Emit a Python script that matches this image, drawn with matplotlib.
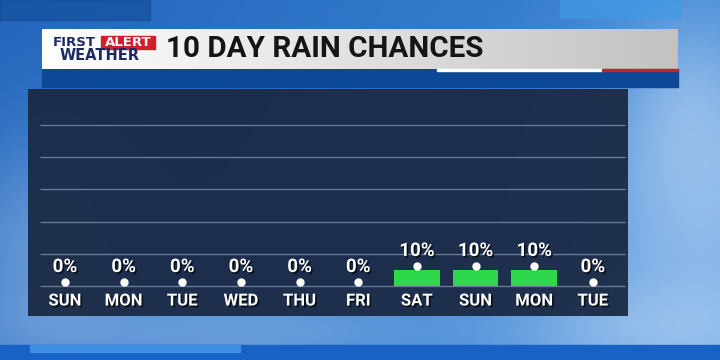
import numpy as np
import matplotlib.pyplot as plt
from matplotlib.patches import Rectangle
import matplotlib.patheffects as pe

days = ["SUN", "MON", "TUE", "WED", "THU", "FRI", "SAT", "SUN", "MON", "TUE"]
rain_pct = [0, 0, 0, 0, 0, 0, 10, 10, 10, 0]
grid_levels = [0, 20, 40, 60, 80, 100]
title = "10 DAY RAIN CHANCES"

fig = plt.figure(figsize=(7.2, 3.6), dpi=100)

# background (pixel coords)
bg = fig.add_axes([0, 0, 1, 1])
bg.set_xlim(0, 720)
bg.set_ylim(360, 0)
bg.axis("off")

H, W = 360, 720
yy, xx = np.mgrid[0:H, 0:W]
dark = np.array([0.08, 0.33, 0.68])
light = np.array([0.30, 0.60, 0.90])
t = np.clip(0.25 + 0.45 * xx / W + 0.15 * yy / H, 0, 1)
img = dark[None, None, :] * (1 - t[..., None]) + light[None, None, :] * t[..., None]
# soft cloud glow
for cx, cy, sx, sy, a in [(700, 200, 90, 120, 0.55), (40, 250, 60, 80, 0.35),
                          (660, 330, 120, 40, 0.45), (220, 330, 160, 30, 0.35),
                          (690, 110, 40, 60, 0.3)]:
    g = a * np.exp(-((xx - cx) ** 2 / (2 * sx ** 2) + (yy - cy) ** 2 / (2 * sy ** 2)))
    img = img * (1 - g[..., None]) + np.array([0.80, 0.88, 0.97])[None, None, :] * g[..., None]
bg.imshow(img, extent=(0, 720, 360, 0), aspect="auto", zorder=0)

# blocky strips top & bottom
bg.add_patch(Rectangle((0, 345), 720, 15, color="#1762c4", zorder=1))
bg.add_patch(Rectangle((30, 345), 210, 7, color="#3c8fe2", zorder=1.1))
bg.add_patch(Rectangle((560, 0), 120, 18, color="#3f9ce8", alpha=0.6, zorder=1))
bg.add_patch(Rectangle((0, 0), 150, 20, color="#0e4590", alpha=0.5, zorder=1))

# header banner
strip = np.linspace(0, 1, 200)[None, :]
bg.add_patch(Rectangle((42, 69), 636, 18, color="#0d4896", zorder=2))
banner_grad = np.dstack([1 - 0.24 * strip, 1 - 0.24 * strip, 1 - 0.24 * strip])
bg.imshow(banner_grad, extent=(42, 678, 69, 29), aspect="auto", zorder=3)
bg.add_patch(Rectangle((437, 69), 165, 1.6, color="white", zorder=4))
bg.add_patch(Rectangle((602, 69), 76, 1.6, color="#c8202c", zorder=4))

# logo
bg.add_patch(Rectangle((101, 35.5), 54, 13, color="#d21f2b", zorder=4))
bg.text(74, 46.5, "FIRST", color="#1c2a63", fontsize=9.5, fontweight="heavy",
        family="DejaVu Sans", ha="center", va="baseline", zorder=5)
bg.text(128, 46.5, "ALERT", color="white", fontsize=9.5, fontweight="heavy",
        family="DejaVu Sans", ha="center", va="baseline", zorder=5)
bg.text(100, 60, "WEATHER", color="#1c2a63", fontsize=10.5, fontweight="heavy",
        family="DejaVu Sans", ha="center", va="baseline", zorder=5)
bg.text(166, 49, title, color="#151515", fontsize=21.3, fontweight="bold",
        family=["Roboto", "DejaVu Sans"], ha="left", va="center", zorder=5)

# chart panel
x = np.arange(len(days))
ax = fig.add_axes([28 / 720, (360 - 316) / 360, 600 / 720, (316 - 89) / 360])
ax.set_facecolor("#1b2a45")
ax.patch.set_alpha(0.95)
ax.set_xlim(-0.63, 9.6)
ax.set_ylim(-18.6, 122.4)
for s in ax.spines.values():
    s.set_visible(False)
ax.set_xticks([])
ax.set_yticks([])

ax.hlines(grid_levels, -0.43, 9.55, color="#8a9ab4", lw=1, alpha=0.7, zorder=1)

ax.bar(x, rain_pct, width=0.78, color="#2fd84a", zorder=2)
ax.plot(x, np.array(rain_pct) + 2.5, "o", color="white", ms=5, zorder=3)

shadow = [pe.withSimplePatchShadow(offset=(1.2, -1.2), shadow_rgbFace="black", alpha=0.7)]
for xi, v in zip(x, rain_pct):
    ax.text(xi, v + 11.8, f"{v}%", color="white", fontsize=13.5, fontweight="bold",
            family="Roboto", ha="center", va="center", zorder=4, path_effects=shadow)
for xi, d in zip(x, days):
    ax.text(xi, -9.3, d, color="white", fontsize=12, fontweight="bold",
            family="Roboto", ha="center", va="center", zorder=4, path_effects=shadow)

fig.savefig("out.png", dpi=100)
